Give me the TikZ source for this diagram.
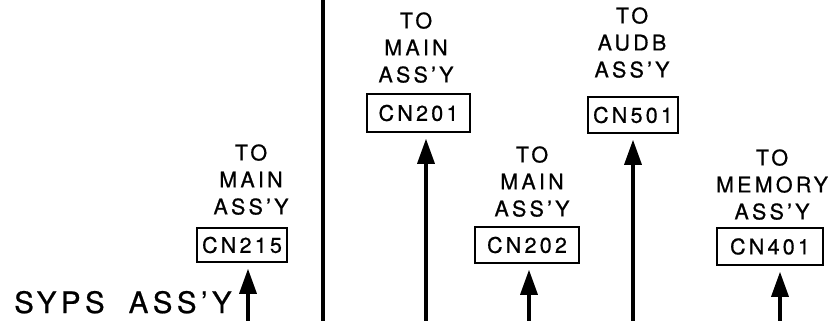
\documentclass[tikz,border=0pt]{standalone}
\usepackage{fontspec}
\setmainfont{TeX Gyre Heros}[LetterSpace=15, FakeBold=0.7]
\usetikzlibrary{arrows.meta}
\tikzset{
  lbl/.style={align=center, inner sep=0pt, anchor=south,
    font=\fontsize{21.5}{27}\selectfont},
  conn/.style={draw, line width=1.5pt, inner sep=0pt,
    font=\fontsize{21.5}{27}\selectfont},
  feed/.style={line width=3.3pt,
    -{Triangle[length=25pt,width=17pt]}, shorten >=6pt},
}
\begin{document}
\begin{tikzpicture}[x=1pt,y=-1pt]
  \useasboundingbox (0,0) rectangle (836,321);

  % divider
  \coordinate (vtop) at (323,0);
  \coordinate (vbot) at (323,321);
  \draw[line width=3.2pt] (vtop) -- (vbot);

  % board name
  \node[anchor=base west, inner sep=0pt, font=\fontsize{29.5}{29.5}\selectfont]
    (syps) at (14,313) {SYPS\hspace*{24pt}ASS’Y};

  % connectors
  \node[conn, minimum width=90pt, minimum height=34pt] (k215) at (242,245) {CN215};
  \node[conn, minimum width=103pt, minimum height=38pt] (k201) at (418.5,113) {CN201};
  \node[conn, minimum width=104pt, minimum height=36pt] (k202) at (527,245) {CN202};
  \node[conn, minimum width=90pt, minimum height=36pt] (k501) at (633,115) {CN501};
  \node[conn, minimum width=106pt, minimum height=37pt] (k401) at (770,246.5) {CN401};

  % destinations
  \node[lbl] (t215) at (251,215) {TO\\MAIN\\ASS’Y};
  \node[lbl] (t201) at (416,83) {TO\\MAIN\\ASS’Y};
  \node[lbl] (t202) at (532,217) {TO\\MAIN\\ASS’Y};
  \node[lbl] (t501) at (632,78) {TO\\AUDB\\ASS’Y};
  \node[lbl] (t401) at (772,220) {TO\\MEMORY\\ASS’Y};

  % feed points at the lower edge
  \coordinate (f215) at (248,321);
  \coordinate (f201) at (426,321);
  \coordinate (f202) at (529,321);
  \coordinate (f501) at (633,321);
  \coordinate (f401) at (780,321);

  \draw[feed] (f215) -- (f215 |- k215.south);
  \draw[feed] (f201) -- (f201 |- k201.south);
  \draw[feed] (f202) -- (f202 |- k202.south);
  \draw[feed] (f501) -- (f501 |- k501.south);
  \draw[feed] (f401) -- (f401 |- k401.south);
\end{tikzpicture}
\end{document}
